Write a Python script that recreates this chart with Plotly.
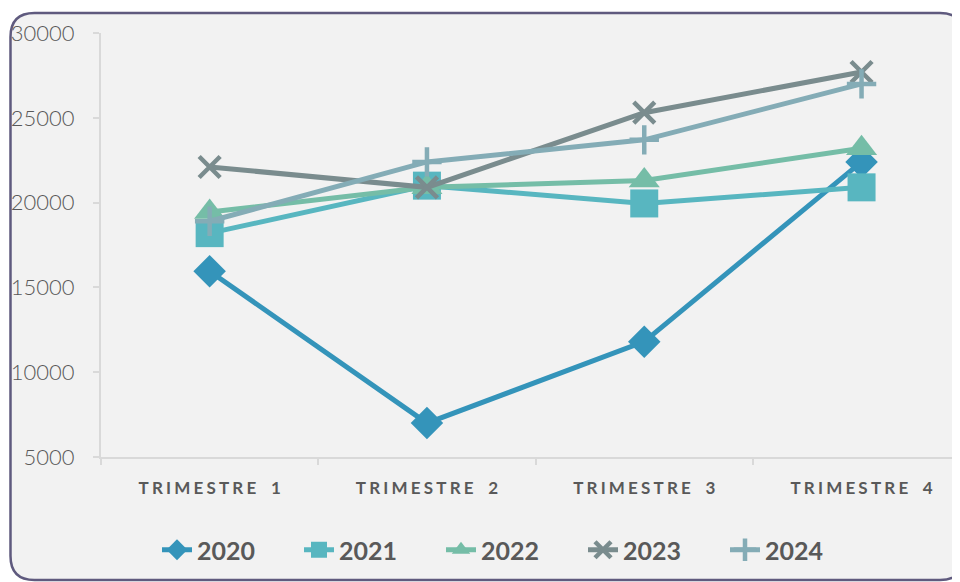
import plotly.graph_objects as go

# Data
quarters = ["TRIMESTRE 1", "TRIMESTRE 2", "TRIMESTRE 3", "TRIMESTRE 4"]
years = ["2020", "2021", "2022", "2023", "2024"]
v2020 = [15950, 7000, 11800, 22400]
v2021 = [18200, 21000, 19950, 20900]
v2022 = [19450, 20900, 21300, 23200]
v2023 = [22100, 20900, 25300, 27700]
v2024 = [18900, 22400, 23700, 27000]
y_ticks = [5000, 10000, 15000, 20000, 25000, 30000]

series = [v2020, v2021, v2022, v2023, v2024]
colors = ["#3494BA", "#58B6C0", "#75BDA7", "#7A8C8E", "#84ACB6"]
symbols = ["diamond", "square", "triangle-up", "x-thin", "cross-thin"]
sizes = [25, 28, 27, 21, 21]

# page body has an 8px margin: shrink the figure so it fits the window,
# figure coords = screen coords - 8
OFF = 8
W, H = 960 - OFF, 582 - OFF
L, R, T, B = 101 - OFF, 0, 33 - OFF, H - (457 - OFF)
PW, PH = W - L - R, H - T - B


def px_to_paper(x, y):
    # x, y are screen pixels of the reference picture
    return (x - OFF - L) / PW, (H - B - (y - OFF)) / PH


def rounded_box(x0, y0, x1, y1, r):
    pts = [
        ("M", [(x0 + r, y0)]),
        ("L", [(x1 - r, y0)]),
        ("Q", [(x1, y0), (x1, y0 + r)]),
        ("L", [(x1, y1 - r)]),
        ("Q", [(x1, y1), (x1 - r, y1)]),
        ("L", [(x0 + r, y1)]),
        ("Q", [(x0, y1), (x0, y1 - r)]),
        ("L", [(x0, y0 + r)]),
        ("Q", [(x0, y0), (x0 + r, y0)]),
    ]
    out = ""
    for cmd, coords in pts:
        out += cmd + " " + " ".join("%.5f,%.5f" % px_to_paper(*c) for c in coords) + " "
    return out + "Z"


def spaced(label):
    gap = "\u2009\u200a"
    return gap.join(label).replace(gap + " " + gap, gap + "\u00a0\u00a0" + gap)


fig = go.Figure()
for name, vals, col, sym, sz in zip(years, series, colors, symbols, sizes):
    thin = sym.endswith("thin")
    fig.add_trace(
        go.Scatter(
            x=quarters,
            y=vals,
            name=name,
            mode="lines+markers",
            line=dict(color=col, width=5),
            marker=dict(
                symbol=sym,
                size=sz,
                color=col,
                line=dict(color=col, width=4.5 if thin else 0),
            ),
        )
    )

fig.update_layout(
    width=W,
    height=H,
    margin=dict(l=L, r=R, t=T, b=B),
    paper_bgcolor="white",
    plot_bgcolor="rgba(0,0,0,0)",
    font=dict(family="Lato, sans-serif", color="#595959"),
    shapes=[
        dict(
            type="path",
            xref="paper",
            yref="paper",
            path=rounded_box(10.5, 13, 964, 580, 24),
            line=dict(color="#5F5A7E", width=2.5),
            fillcolor="#F2F2F2",
            layer="below",
        )
    ],
    legend=dict(
        orientation="h",
        xref="container",
        yref="container",
        x=(512 - OFF) / W,
        xanchor="center",
        y=1 - (550 - OFF) / H,
        yanchor="middle",
        font=dict(size=25, color="#595959", weight="bold"),
        bgcolor="rgba(0,0,0,0)",
        entrywidth=97,
        itemclick=False,
    ),
    showlegend=True,
)

fig.update_xaxes(
    type="category",
    range=[-0.5, -0.5 + PW / 217.3],
    tickmode="array",
    tickvals=quarters,
    ticktext=[spaced(q) for q in quarters],
    tickson="boundaries",
    ticks="outside",
    ticklen=6,
    tickcolor="#D9D9D9",
    tickwidth=1.5,
    showline=True,
    linecolor="#D9D9D9",
    linewidth=2,
    showgrid=False,
    zeroline=False,
    tickfont=dict(size=17, color="#595959", weight="bold"),
    ticklabelstandoff=15,
)

fig.update_yaxes(
    range=[5000, 30000],
    tickvals=y_ticks,
    tickformat="d",
    ticks="outside",
    ticklen=6,
    tickcolor="#D9D9D9",
    tickwidth=1.5,
    showline=True,
    linecolor="#D9D9D9",
    linewidth=2,
    showgrid=False,
    zeroline=False,
    tickfont=dict(size=22, color="#595959", weight=300),
    ticklabelstandoff=14,
)

fig.write_html("out.html")
